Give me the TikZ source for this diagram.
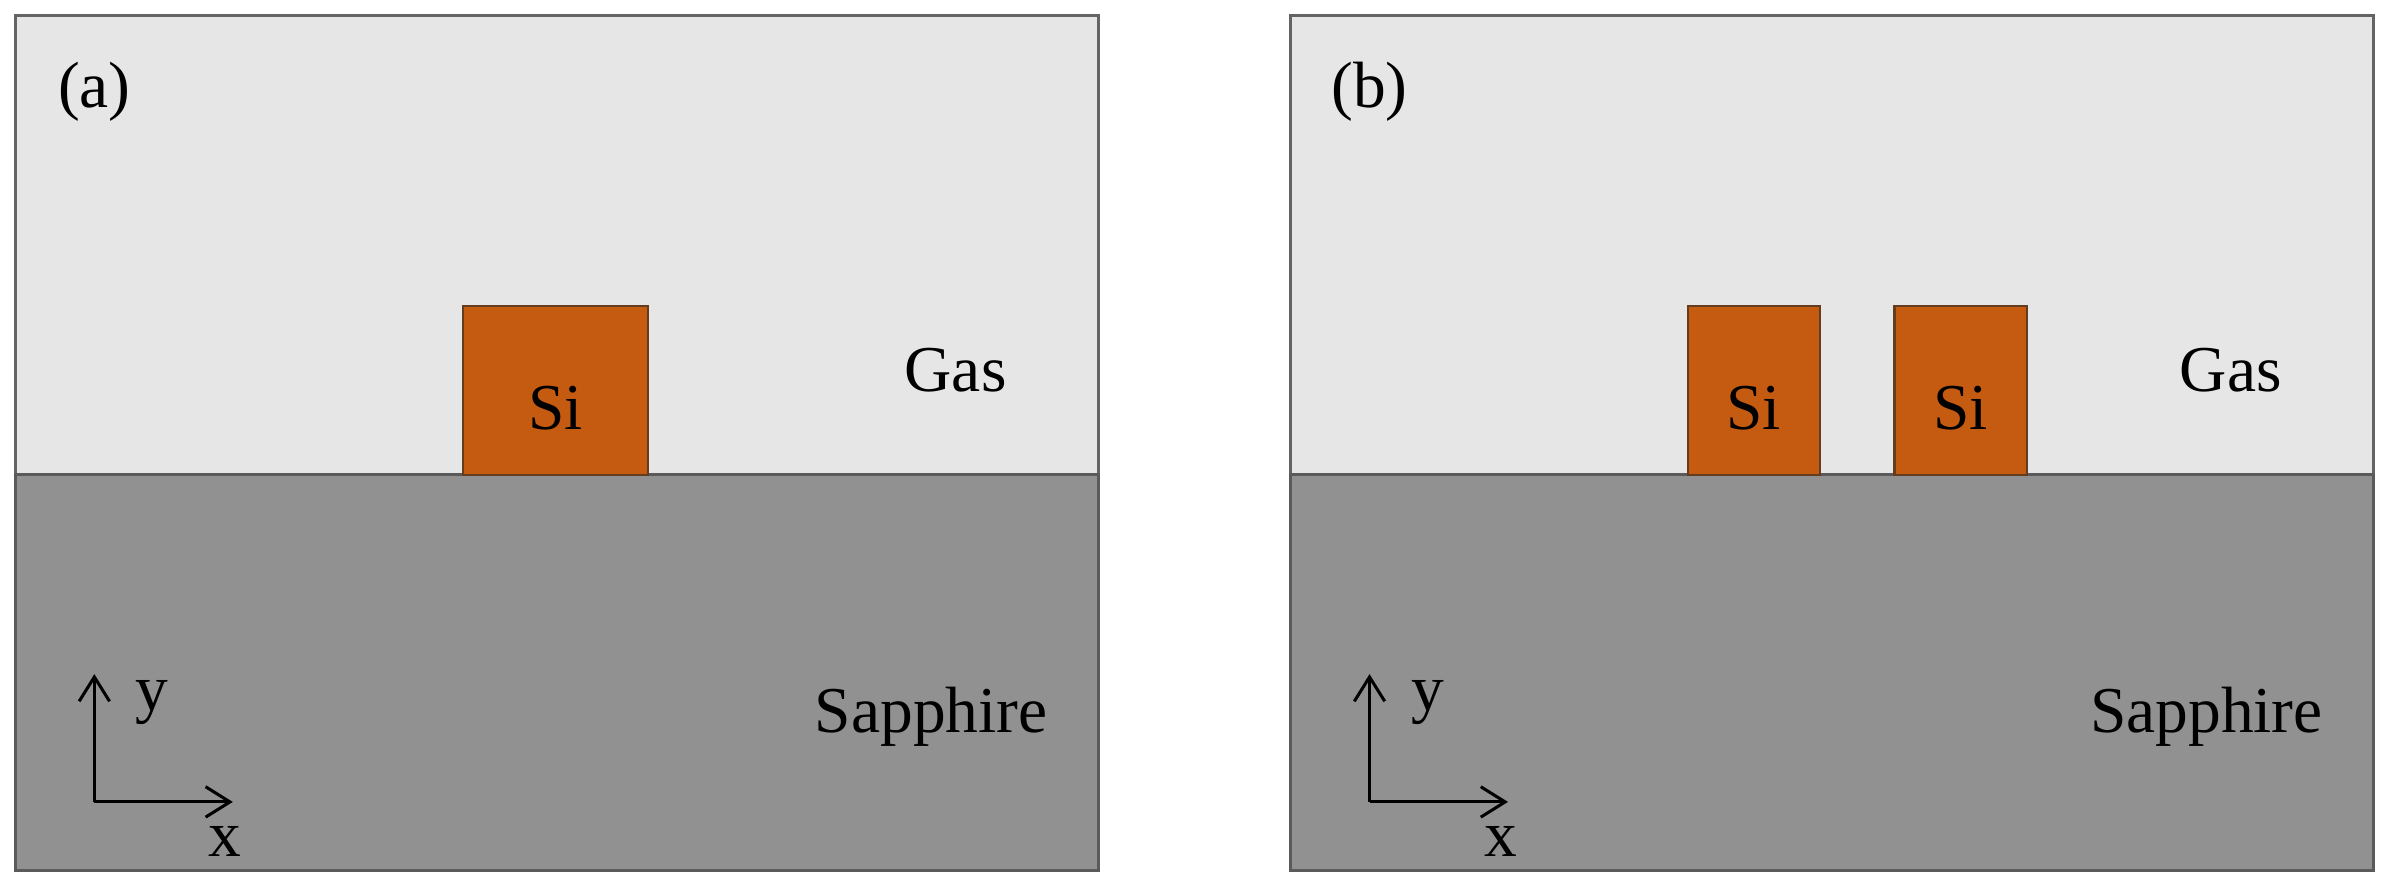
\documentclass[tikz,border=0pt]{standalone}
\usepackage{fontspec}
\setmainfont{Liberation Serif}
\begin{document}
\begin{tikzpicture}[x=0.5pt,y=-0.5pt,
  gas/.style={fill={rgb,255:red,230;green,230;blue,230},draw={rgb,255:red,100;green,100;blue,100},line width=1pt},
  sap/.style={fill={rgb,255:red,145;green,145;blue,145},draw={rgb,255:red,90;green,90;blue,90},line width=1pt},
  si/.style={fill={rgb,255:red,197;green,90;blue,17},draw={rgb,255:red,100;green,60;blue,30},line width=0.7pt},
  lbl/.style={font=\fontsize{21.5}{24}\selectfont,inner sep=0pt},
  ax/.style={-{Straight Barb[length=8pt,width=10pt]},line width=1pt}]
\usetikzlibrary{arrows.meta}
\useasboundingbox (0,0) rectangle (1568,582);
\fill[white] (0,0) rectangle (1568,582);
\foreach \o/\t in {0/a,838/b}{
  \begin{scope}[xshift=\o*0.5pt]
  \draw[gas] (10,10) rectangle (722,312);
  \draw[sap] (10,312) rectangle (722,572);
  \node[lbl] (t\t) at (62,60) {(\t)};
  \node[lbl] (gas\t) at (628,243) {Gas};
  \node[lbl] (sap\t) at (612,471) {Sapphire};
  \coordinate (o\t) at (62,527);
  \coordinate (ye\t) at (62,443);
  \coordinate (xe\t) at (153,527);
  \draw[ax] (o\t) -- (ye\t);
  \draw[ax] (o\t) -- (xe\t);
  \node[lbl] (yl\t) at (100,462) {y};
  \node[lbl] (xl\t) at (148,553) {x};
  \end{scope}}
\draw[si] (304,201) rectangle (426,312);
\node[lbl] (si1) at (365,268) {Si};
\draw[si] (1109,201) rectangle (1196,312);
\node[lbl] (si2) at (1152.5,268) {Si};
\draw[si] (1245,201) rectangle (1332,312);
\node[lbl] (si3) at (1288.5,268) {Si};
\end{tikzpicture}
\end{document}
